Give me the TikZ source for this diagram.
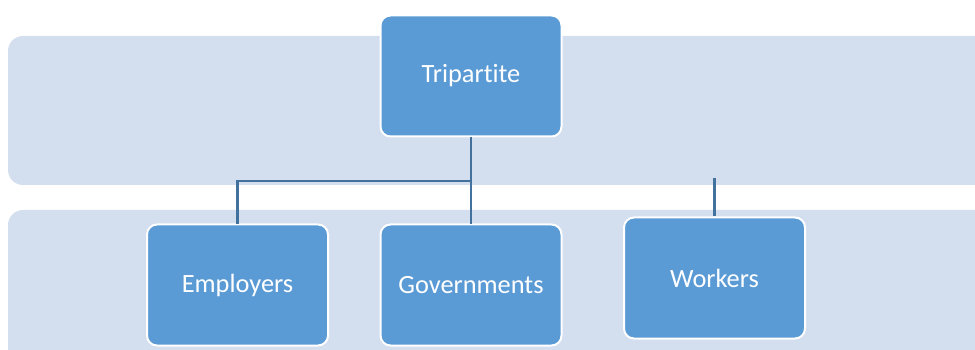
\documentclass[tikz,border=0pt]{standalone}
\usepackage{fontspec}
\setmainfont{Carlito}[Ligatures=NoCommon]
\usepackage{tikz}
\definecolor{bandfill}{RGB}{211,222,239}
\definecolor{boxfill}{RGB}{91,155,213}
\definecolor{linkcol}{RGB}{65,113,156}
\tikzset{
	band/.style={fill=bandfill, draw=none, rounded corners=0.3cm},
	box/.style={draw=white, line width=0.4mm, fill=boxfill, rounded corners=0.2cm,
		minimum width=3.62cm, minimum height=2.42cm, text=white,
		font=\fontsize{15}{18}\selectfont, inner sep=0pt},
	link/.style={line width=0.5mm, color=linkcol}
}

\begin{document}
\begin{tikzpicture}
		%%%%% START %%%%%
		
		\useasboundingbox (0, 0) rectangle (19.5, 6.98);
		\clip (0, 0) rectangle (19.5, 6.98);
		
		\draw[band] (0.16, 3.28) rectangle (19.9, 6.26);
		\draw[band] (0.16, -0.6) rectangle (19.9, 2.78);
		
		\node[box] (tripartite) at (9.42, 5.46) {Tripartite};
		
		\node[box] (employers) at (4.75, 1.28) {Employers};
		\node[box] (governments) at (9.42, 1.28) {Governments};
		\node[box] (workers) at (14.29, 1.42) {Workers};
		
		\coordinate (split) at (9.42, 3.36);
		\coordinate (stub) at (14.29, 3.42);
		
		\draw[link] (tripartite.south) -- (split);
		\draw[link] (split) -| (employers.north);
		\draw[link] (split) -- (governments.north);
		\draw[link] (stub) -- (workers.north);
		
		%%%%% END %%%%%
	\end{tikzpicture}
\end{document}
